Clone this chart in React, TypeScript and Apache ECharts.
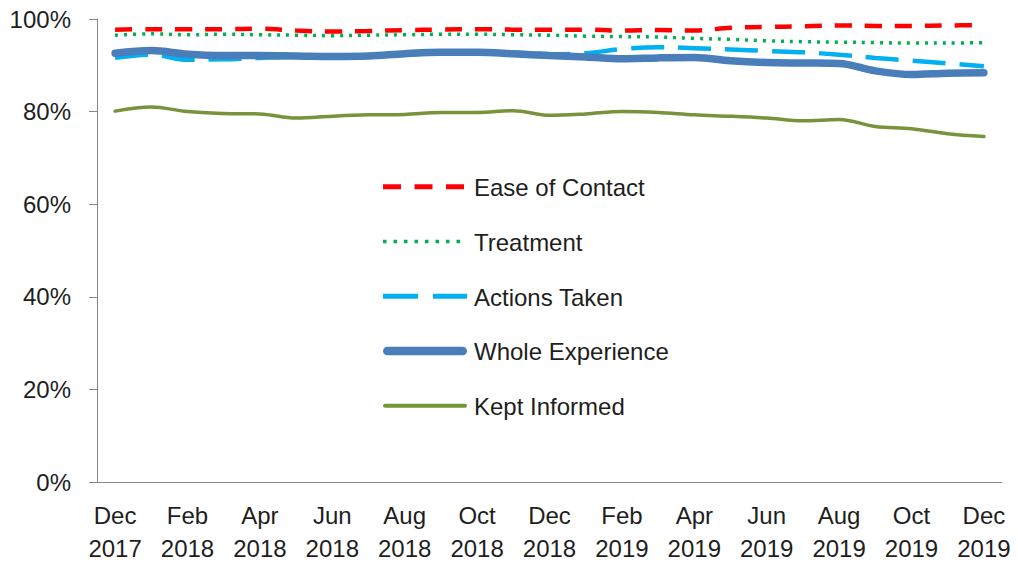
import React, { useEffect, useRef } from "react";
import * as echarts from "echarts";

const months = [
  "Dec\n2017", "Jan\n2018", "Feb\n2018", "Mar\n2018", "Apr\n2018", "May\n2018", "Jun\n2018",
  "Jul\n2018", "Aug\n2018", "Sep\n2018", "Oct\n2018", "Nov\n2018", "Dec\n2018",
  "Jan\n2019", "Feb\n2019", "Mar\n2019", "Apr\n2019", "May\n2019", "Jun\n2019",
  "Jul\n2019", "Aug\n2019", "Sep\n2019", "Oct\n2019", "Nov\n2019", "Dec\n2019",
];

const easeOfContact = [97.7, 97.8, 97.8, 97.8, 97.9, 97.5, 97.3, 97.4, 97.6, 97.7, 97.8, 97.7, 97.7, 97.7, 97.5, 97.6, 97.5, 98.1, 98.3, 98.4, 98.6, 98.5, 98.5, 98.6, 98.7];
const treatment = [96.5, 96.8, 96.6, 96.7, 96.6, 96.5, 96.4, 96.5, 96.6, 96.7, 96.7, 96.6, 96.5, 96.3, 96.2, 96.1, 95.8, 95.6, 95.3, 95.1, 95.0, 94.9, 94.8, 94.8, 94.9];
const actionsTaken = [91.6, 92.3, 91.2, 91.3, 91.6, 91.8, 91.8, 91.9, 92.3, 92.6, 92.6, 92.7, 92.4, 92.6, 93.5, 93.9, 93.7, 93.4, 93.1, 92.8, 92.3, 91.6, 91.0, 90.4, 89.8];
const wholeExperience = [92.6, 93.2, 92.4, 92.1, 92.1, 92.0, 91.9, 92.0, 92.5, 92.8, 92.8, 92.5, 92.1, 91.8, 91.4, 91.6, 91.7, 91.0, 90.6, 90.5, 90.4, 88.8, 88.0, 88.3, 88.4];
const keptInformed = [80.1, 81.0, 80.0, 79.6, 79.5, 78.6, 79.0, 79.3, 79.4, 79.8, 79.8, 80.2, 79.2, 79.5, 80.0, 79.8, 79.3, 79.0, 78.6, 78.0, 78.3, 76.8, 76.3, 75.2, 74.6];

const seriesNames = ["Ease of Contact", "Treatment", "Actions Taken", "Whole Experience", "Kept Informed"];

const FONT = "'Liberation Sans', Arial, sans-serif";
const TEXT = "#1e1e1e";

type Sty = { color: string; width: number; dash: number[] | null; cap: string; legendWidth: number; legendDash: number[] | null };
const styles: Sty[] = [
  { color: "#FF0000", width: 4.5, dash: [17, 13], cap: "butt", legendWidth: 5, legendDash: [18, 13.5] },
  { color: "#00B050", width: 3.5, dash: [3, 6], cap: "butt", legendWidth: 3.5, legendDash: [3.5, 7] },
  { color: "#00B0F0", width: 4.5, dash: [33, 14], cap: "butt", legendWidth: 5, legendDash: [35, 15] },
  { color: "#4A7EBB", width: 7.5, dash: null, cap: "round", legendWidth: 8.5, legendDash: null },
  { color: "#77933C", width: 3.5, dash: null, cap: "round", legendWidth: 4, legendDash: null },
];

export default function App() {
  const ref = useRef<HTMLDivElement>(null);
  useEffect(() => {
    if (!ref.current) return;
    const chart = echarts.init(ref.current, null, { renderer: "svg" });
    const dataSets = [easeOfContact, treatment, actionsTaken, wholeExperience, keptInformed];
    const series = seriesNames.map((name, i) => ({
      name,
      type: "line",
      data: dataSets[i],
      smooth: 0.35,
      symbol: "none",
      showSymbol: false,
      lineStyle: {
        color: styles[i].color,
        width: styles[i].width,
        type: styles[i].dash ? styles[i].dash : "solid",
        cap: styles[i].cap,
      },
      itemStyle: { color: styles[i].color },
    }));

    const legendTop = 186.7;
    const legendStep = 54.75;
    const legendX1 = 383;
    const legendX2 = 467;
    const legendGraphics: any[] = [];
    seriesNames.forEach((name, i) => {
      const y = legendTop + legendStep * i;
      const s = styles[i];
      legendGraphics.push({
        type: "line",
        shape: { x1: legendX1 + (s.cap === "round" ? s.legendWidth / 2 : 0), y1: y, x2: legendX2 - (s.cap === "round" ? s.legendWidth / 2 : 0), y2: y },
        style: {
          stroke: s.color,
          lineWidth: s.legendWidth,
          lineDash: s.legendDash || undefined,
          lineCap: s.cap,
        },
        silent: true,
      });
      legendGraphics.push({
        type: "text",
        x: 474,
        y: y + 1,
        style: {
          text: name,
          fontFamily: FONT,
          fontSize: 24,
          fill: TEXT,
          verticalAlign: "middle",
          align: "left",
        },
        silent: true,
      });
    });

    chart.setOption({
      animation: false,
      textStyle: { fontFamily: FONT },
      grid: { left: 97, right: 16, top: 19, bottom: 87 },
      xAxis: {
        type: "category",
        data: months,
        boundaryGap: true,
        axisLine: { lineStyle: { color: "#868686", width: 1 } },
        axisTick: { interval: 1, length: 8, lineStyle: { color: "#868686" } },
        axisLabel: {
          interval: 1,
          fontFamily: FONT,
          fontSize: 24,
          lineHeight: 33,
          color: TEXT,
          margin: 17,
        },
        splitLine: { show: false },
      },
      yAxis: {
        type: "value",
        min: 0,
        max: 100,
        interval: 20,
        axisLine: { show: true, lineStyle: { color: "#868686", width: 1 } },
        axisTick: { show: true, length: 8, lineStyle: { color: "#868686" } },
        axisLabel: { formatter: "{value}%", fontFamily: FONT, fontSize: 24, color: TEXT, margin: 26 },
        splitLine: { show: false },
      },
      graphic: legendGraphics,
      series,
    });
    return () => chart.dispose();
  }, []);
  return <div ref={ref} style={{ position: "absolute", left: 0, top: 0, width: 1018, height: 569 }} />;
}
